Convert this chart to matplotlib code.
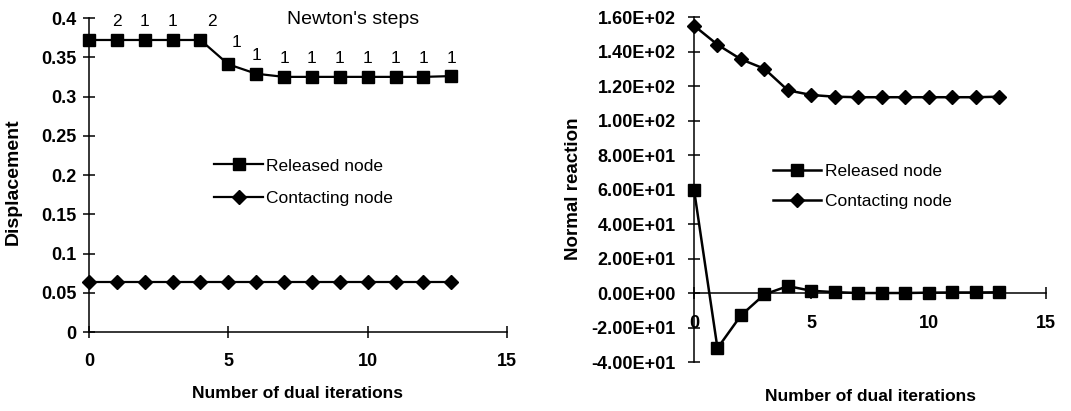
import matplotlib.pyplot as plt
from matplotlib.ticker import FuncFormatter

plt.rcParams['font.family'] = ['Liberation Sans', 'DejaVu Sans']

iterations = list(range(14))
# left chart: displacement
disp_released = [0.372, 0.372, 0.372, 0.372, 0.372, 0.341, 0.329, 0.325,
                 0.325, 0.325, 0.325, 0.325, 0.325, 0.326]
disp_contacting = [0.064] * 14
newton_steps = [2, 1, 1, 2, 1, 1, 1, 1, 1, 1, 1, 1, 1]  # for iterations 1..13

# right chart: normal reaction
react_released = [60.0, -32.0, -13.0, -0.8, 4.0, 1.3, 0.5, 0.0,
                  0.0, 0.0, 0.2, 0.3, 0.3, 0.4]
react_contacting = [155.0, 144.0, 135.5, 130.0, 117.5, 114.8, 113.8, 113.5,
                    113.5, 113.5, 113.5, 113.5, 113.5, 113.8]


def style_axes(ax, ypad):
    ax.spines['top'].set_visible(False)
    ax.spines['right'].set_visible(False)
    ax.spines['bottom'].set_position(('data', 0))
    for s in ('left', 'bottom'):
        ax.spines[s].set_linewidth(1.1)
    ax.tick_params(direction='inout', length=8, width=1.1, labelsize=13)
    ax.tick_params(axis='y', pad=ypad)
    for lab in ax.get_xticklabels() + ax.get_yticklabels():
        lab.set_fontweight('bold')


fig = plt.figure(figsize=(10.71, 4.11), dpi=100)

# ---- left panel
ax1 = fig.add_axes([0.0831, 0.1922, 0.3903, 0.764])
ax1.plot(iterations, disp_released, color='black', lw=1.6, marker='s', ms=8,
         clip_on=False, label='Released node')
ax1.plot(iterations, disp_contacting, color='black', lw=1.6, marker='D', ms=7,
         clip_on=False, label='Contacting node')
ax1.set_xlim(0, 15)
ax1.set_ylim(0, 0.4)
ax1.set_xticks([0, 5, 10, 15])
ax1.set_yticks([0, 0.05, 0.1, 0.15, 0.2, 0.25, 0.3, 0.35, 0.4])
ax1.yaxis.set_major_formatter(FuncFormatter(lambda v, p: f'{v:g}'))
ax1.tick_params(axis='x', pad=11)
style_axes(ax1, 5)

for i, s in enumerate(newton_steps):
    x = i + 1
    dx, dy = 0, 13
    if x == 4:
        dx = 8
    elif x == 5:
        dx, dy = 6, 16
    ax1.annotate(str(s), (x, disp_released[x]), xytext=(dx, dy),
                 textcoords='offset points', ha='center', va='center',
                 fontsize=12.5, annotation_clip=False)
ax1.text(0.632, 0.994, "Newton's steps", transform=ax1.transAxes,
         ha='center', va='center', fontsize=14)

ax1.legend(loc='upper left', bbox_to_anchor=(0.30, 0.553), frameon=False,
           fontsize=12.5, handlelength=2.8, handletextpad=0.2,
           labelspacing=1.0, borderpad=0, borderaxespad=0)
ax1.set_ylabel('Displacement', fontsize=14, fontweight='bold')
ax1.yaxis.set_label_coords(-0.16, 0.478)
ax1.set_xlabel('Number of dual iterations', fontsize=12.5, fontweight='bold')
ax1.xaxis.set_label_coords(0.498, -0.172)

# ---- right panel
ax2 = fig.add_axes([0.648, 0.1192, 0.3287, 0.8394])
ax2.plot(iterations, react_released, color='black', lw=1.8, marker='s', ms=9,
         clip_on=False, label='Released node')
ax2.plot(iterations, react_contacting, color='black', lw=1.8, marker='D', ms=7.5,
         clip_on=False, label='Contacting node')
ax2.set_xlim(0, 15)
ax2.set_ylim(-40, 160)
ax2.set_xticks([0, 5, 10, 15])
ax2.set_yticks(list(range(-40, 161, 20)))
ax2.yaxis.set_major_formatter(FuncFormatter(lambda v, p: f'{v:.2E}'))
ax2.tick_params(axis='x', pad=12)
style_axes(ax2, 9)

ax2.legend(loc='upper left', bbox_to_anchor=(0.224, 0.573), frameon=False,
           fontsize=12.5, handlelength=2.8, handletextpad=0.2,
           labelspacing=0.85, borderpad=0, borderaxespad=0)
ax2.set_ylabel('Normal reaction', fontsize=13.5, fontweight='bold')
ax2.yaxis.set_label_coords(-0.317, 0.501)
ax2.set_xlabel('Number of dual iterations', fontsize=12.5, fontweight='bold')
ax2.xaxis.set_label_coords(0.5, -0.079)

fig.savefig('out.png', dpi=100)
